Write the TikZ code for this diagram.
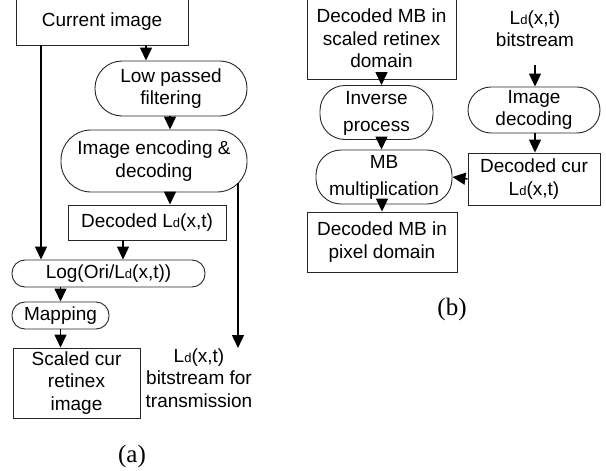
\documentclass[tikz,border=0pt]{standalone}
\usepackage{fontspec}
\setmainfont{Liberation Sans}
\newfontfamily\capfont{Liberation Serif}
\usetikzlibrary{arrows.meta,calc}
% L_d(x,t) with the small "d"
\newcommand\Ldxt{L\raisebox{-0.5pt}{\fontsize{13}{13}\selectfont d}(x,t)}
% two centred lines, 27pt apart, lowered by #1
\newcommand\twolines[3]{\raisebox{#1}{\fontsize{19}{27}\selectfont\begin{tabular}{@{}c@{}}#2\\#3\end{tabular}}}
\tikzset{
  base/.style={draw=black!85, line width=0.9pt, inner sep=0pt, align=center,
    font=\fontsize{19}{22.5}\selectfont},
  boxnode/.style={base, rectangle},
  pill/.style={base, rectangle, rounded corners=#1},
  pill/.default=13pt,
  plain/.style={inner sep=0pt, align=center, font=\fontsize{19}{22.5}\selectfont},
  arr/.style={line width=1.4pt, -{Triangle[length=13pt,width=12pt]}},
  subcap/.style={inner sep=0pt, font=\capfont\fontsize{25}{28}\selectfont},
}
\begin{document}
\begin{tikzpicture}[x=1pt,y=-1pt]
\path[use as bounding box] (0,0) rectangle (606,471);
\clip (0,0) rectangle (606,471);

% ---- (a) encoder side ----
\node[boxnode, minimum width=172pt, minimum height=47pt] (cur) at (102,21.5) {\raisebox{-2.5pt}{Current image}};
\node[pill=27pt, minimum width=152pt, minimum height=55pt] (low) at (171,88.5) {Low passed\\filtering};
\node[pill=30pt, minimum width=186pt, minimum height=62pt] (enc) at (154,161) {Image encoding \&\\decoding};
\node[boxnode, minimum width=158pt, minimum height=35pt] (dec) at (147,222.5) {Decoded \Ldxt};
\node[pill=13pt, minimum width=193pt, minimum height=27pt] (log) at (108.5,273.5) {Log(Ori/\Ldxt)};
\node[pill=13pt, minimum width=97pt, minimum height=27pt] (map) at (60.5,315.5) {Mapping};
\node[boxnode, minimum width=127pt, minimum height=70pt] (scl) at (76.5,383) {Scaled cur\\retinex\\image};
\node[plain] (bst) at (199,378) {\Ldxt\\bitstream for\\transmission};
\node[subcap] (capa) at (132,456) {(a)};

\coordinate (curL) at (41,45);
\coordinate (curR) at (146,45);
\coordinate (encR) at (238,183);
\coordinate (bstTip) at (238,348);

\draw[arr] (curL) -- (curL |- log.north);
\draw[arr] (curR) -- (curR |- low.north);
\draw[arr] (170,116) coordinate (lowS) -- (lowS |- enc.north);
\draw[arr] (170,192) coordinate (encS) -- (encS |- dec.north);
\draw[arr] (123,240) coordinate (decS) -- (decS |- log.north);
\draw[arr] (map.north |- log.south) -- (map.north);
\draw[arr] (map.south) -- (map.south |- scl.north);
\draw[arr] (encR) -- (bstTip);

% ---- (b) decoder side ----
\node[boxnode, minimum width=149pt, minimum height=81pt] (mbs) at (381.5,38.5) {Decoded MB in\\scaled retinex\\domain};
\node[plain] (bsr) at (535,28.5) {\Ldxt\\bitstream};
\node[pill=23pt, minimum width=132pt, minimum height=46pt] (idec) at (534,110) {Image\\decoding};
\node[boxnode, minimum width=132pt, minimum height=52pt] (dcur) at (534,179) {Decoded cur\\\Ldxt};
\node[pill=25pt, minimum width=113pt, minimum height=51pt] (inv) at (376.5,112.5) {\twolines{-3.5pt}{Inverse}{process}};
\node[pill=25pt, minimum width=136pt, minimum height=50pt] (mult) at (384,177) {\twolines{-2pt}{MB}{multiplication}};
\node[boxnode, minimum width=150pt, minimum height=60pt] (pix) at (382,242) {Decoded MB in\\pixel domain};
\node[subcap] (capb) at (452,309) {(b)};

\coordinate (bsrTail) at (535,65);

\draw[arr] (mbs.south) -- (mbs.south |- inv.north);
\draw[arr] (inv.south -| mbs.south) -- (mbs.south |- mult.north);
\draw[arr] (pix.north |- mult.south) -- (pix.north);
\draw[arr] (bsrTail) -- (bsrTail |- idec.north);
\draw[arr] (bsrTail |- idec.south) -- (bsrTail |- dcur.north);
\draw[arr] (dcur.west) -- (mult.east);
\end{tikzpicture}
\end{document}
